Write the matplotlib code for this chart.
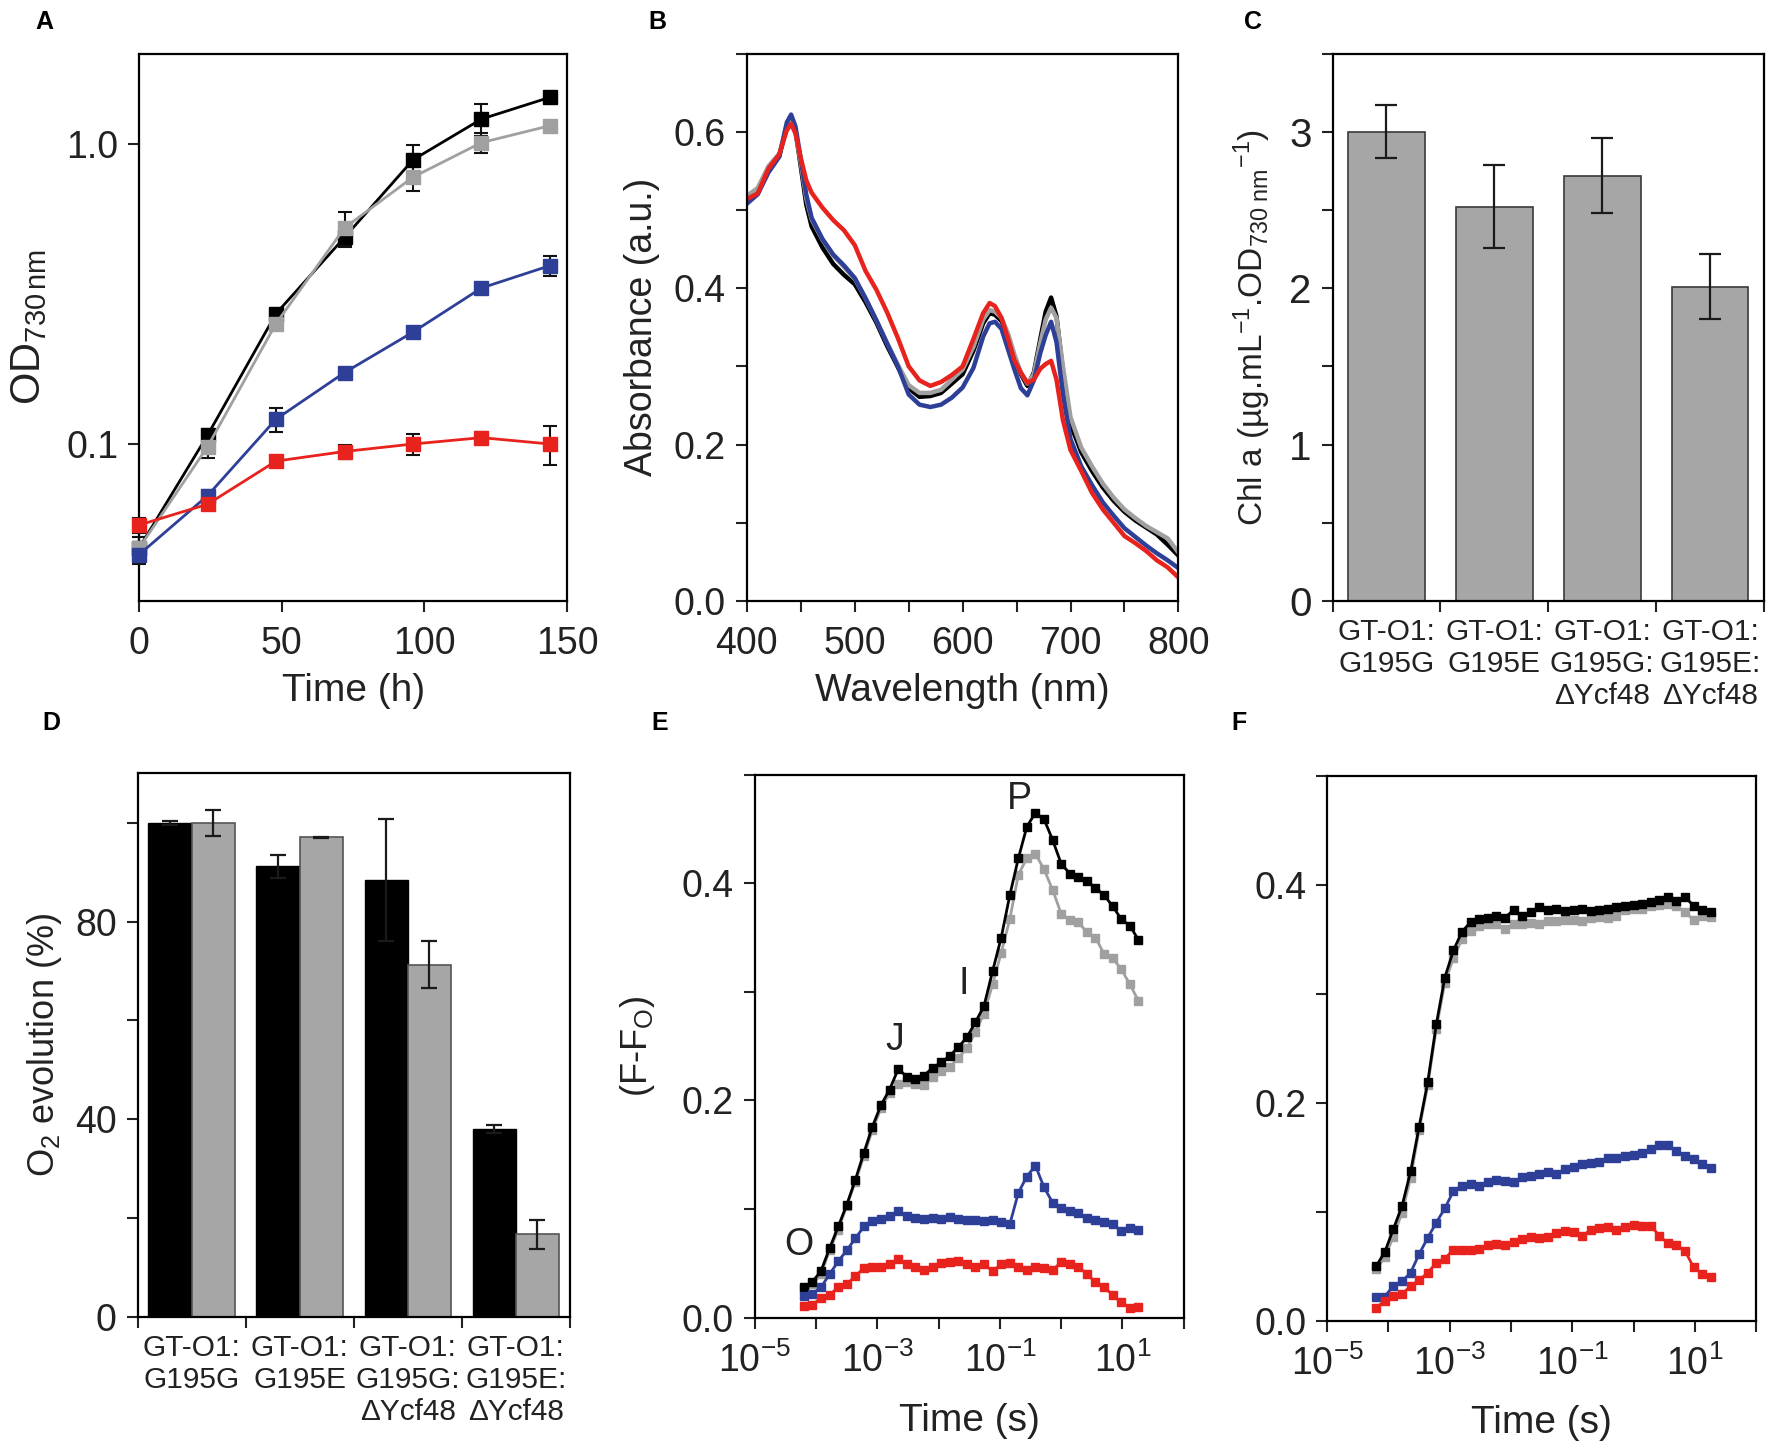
import matplotlib
matplotlib.use('Agg')
import matplotlib.pyplot as plt
import numpy as np
from matplotlib.ticker import (MultipleLocator, FixedLocator, FixedFormatter,
                               LogLocator, FuncFormatter, NullLocator)

plt.rcParams['font.family'] = ['Liberation Sans', 'DejaVu Sans']
plt.rcParams['mathtext.fontset'] = 'custom'
plt.rcParams['mathtext.rm'] = 'Liberation Sans'
plt.rcParams['mathtext.it'] = 'Liberation Sans:italic'
plt.rcParams['mathtext.bf'] = 'Liberation Sans:bold'
plt.rcParams['axes.linewidth'] = 1.6
plt.rcParams['text.color'] = '#222222'
plt.rcParams['axes.labelcolor'] = '#222222'
plt.rcParams['xtick.color'] = '#222222'
plt.rcParams['ytick.color'] = '#222222'

BLACK = '#000000'
GRAY = '#a0a0a0'
BLUE = '#2e3f98'
RED = '#e8221c'
BAR_GRAY = '#a6a6a6'

TICK_FS = 27
XLABEL_FS = 28
YLABEL_FS = 26
CAT_FS = 21.5

# --- A: growth curves ---
growth_time = [0, 24, 48, 72, 96, 120, 144]
od_black = [0.045, 0.107, 0.272, 0.488, 0.885, 1.21, 1.43]
od_black_err = [0.004, 0.005, 0.010, 0.03, 0.11, 0.15, 0.04]
od_gray = [0.045, 0.098, 0.252, 0.525, 0.775, 1.01, 1.15]
od_gray_err = [0.004, 0.008, 0.012, 0.07, 0.08, 0.08, 0.03]
od_blue = [0.0428, 0.0673, 0.121, 0.173, 0.236, 0.331, 0.393]
od_blue_err = [0.003, 0.003, 0.011, 0.006, 0.010, 0.010, 0.030]
od_red = [0.0537, 0.063, 0.0877, 0.0944, 0.100, 0.105, 0.100]
od_red_err = [0.003, 0.002, 0.003, 0.005, 0.008, 0.005, 0.015]

# --- B: absorbance spectra ---
wavelength = [400, 410, 420, 430, 437, 441, 445, 450, 455, 460, 470, 480, 490, 500,
              510, 520, 530, 540, 550, 560, 570, 580, 590, 600, 610, 619, 625, 630,
              636, 642, 648, 654, 660, 666, 672, 677, 682, 687, 693, 700, 710, 720,
              730, 740, 750, 760, 770, 780, 790, 800]
abs_black = [.512, .521, .552, .569, .607, .619, .602, .555, .507, .479, .452, .431, .417, .405,
             .382, .356, .326, .299, .272, .261, .262, .266, .278, .290, .320, .355, .368, .366,
             .358, .340, .312, .290, .275, .292, .335, .370, .388, .364, .293, .226, .190, .166,
             .145, .128, .114, .103, .094, .085, .072, .058]
abs_gray = [.518, .528, .556, .572, .605, .617, .600, .560, .515, .488, .462, .442, .427, .412,
            .387, .359, .330, .302, .276, .266, .266, .270, .283, .296, .325, .360, .372, .370,
            .362, .342, .315, .292, .278, .290, .330, .360, .375, .362, .300, .235, .196, .172,
            .150, .132, .117, .106, .096, .088, .080, .062]
abs_blue = [.508, .520, .548, .568, .612, .622, .607, .565, .520, .490, .463, .443, .429, .413,
            .387, .359, .329, .300, .264, .251, .248, .251, .260, .273, .298, .338, .355, .357,
            .348, .322, .296, .272, .263, .282, .317, .340, .357, .331, .264, .207, .172, .148,
            .126, .109, .093, .082, .071, .061, .052, .042]
abs_red = [.514, .521, .553, .571, .602, .610, .598, .566, .538, .522, .503, .487, .474, .455,
           .422, .398, .369, .336, .300, .282, .275, .280, .289, .300, .335, .368, .381, .377,
           .362, .336, .308, .292, .279, .283, .297, .303, .307, .283, .231, .193, .166, .138,
           .117, .100, .083, .074, .064, .052, .043, .030]

# --- C: chlorophyll a ---
strains = ['GT-O1:\nG195G', 'GT-O1:\nG195E', 'GT-O1:\nG195G:\nΔYcf48', 'GT-O1:\nG195E:\nΔYcf48']
chl = [3.00, 2.52, 2.72, 2.01]
chl_err = [0.17, 0.265, 0.24, 0.21]

# --- D: O2 evolution ---
o2_black = [99.9, 91.2, 88.4, 38.1]
o2_black_err = [0.4, 2.3, 12.3, 0.8]
o2_gray = [100.0, 97.0, 71.3, 16.7]
o2_gray_err = [2.6, 0.1, 4.7, 3.0]

# --- E / F: OJIP fluorescence transients ---
ojip_time = [6.3e-5, 8.7e-5, 1.2e-4, 1.66e-4, 2.3e-4, 3.16e-4, 4.37e-4, 6.03e-4, 8.3e-4,
             1.15e-3, 1.58e-3, 2.19e-3, 3.02e-3, 4.17e-3, 5.75e-3, 7.94e-3, 0.011, 0.0151,
             0.0209, 0.0288, 0.0398, 0.055, 0.0759, 0.105, 0.145, 0.2, 0.275, 0.38, 0.525,
             0.724, 1.0, 1.38, 1.91, 2.63, 3.63, 5.01, 6.92, 9.55, 13.2, 18.2]
e_black = [0.028, 0.033, 0.043, 0.064, 0.084, 0.104, 0.127, 0.152, 0.176, 0.196, 0.210, 0.229,
           0.222, 0.220, 0.223, 0.230, 0.235, 0.241, 0.249, 0.258, 0.272, 0.287, 0.319, 0.350,
           0.389, 0.423, 0.452, 0.465, 0.459, 0.440, 0.418, 0.409, 0.406, 0.402, 0.396, 0.389,
           0.379, 0.367, 0.361, 0.348]
e_gray = [0.026, 0.031, 0.040, 0.062, 0.081, 0.103, 0.125, 0.149, 0.173, 0.193, 0.207, 0.215,
          0.217, 0.215, 0.214, 0.222, 0.227, 0.231, 0.239, 0.248, 0.263, 0.280, 0.307, 0.336,
          0.367, 0.408, 0.423, 0.427, 0.413, 0.394, 0.372, 0.366, 0.364, 0.355, 0.350, 0.335,
          0.331, 0.321, 0.307, 0.292]
e_blue = [0.020, 0.022, 0.028, 0.040, 0.052, 0.062, 0.073, 0.084, 0.089, 0.091, 0.094, 0.098,
          0.094, 0.092, 0.091, 0.092, 0.091, 0.093, 0.091, 0.090, 0.090, 0.089, 0.090, 0.088,
          0.086, 0.115, 0.130, 0.140, 0.120, 0.106, 0.101, 0.098, 0.096, 0.092, 0.090, 0.088,
          0.086, 0.080, 0.083, 0.081]
e_red = [0.011, 0.012, 0.018, 0.021, 0.028, 0.031, 0.038, 0.046, 0.047, 0.047, 0.049, 0.054,
         0.049, 0.047, 0.044, 0.047, 0.050, 0.051, 0.052, 0.049, 0.047, 0.049, 0.043, 0.049,
         0.050, 0.047, 0.044, 0.047, 0.046, 0.044, 0.051, 0.049, 0.047, 0.040, 0.033, 0.028,
         0.021, 0.014, 0.009, 0.010]
f_black = [0.050, 0.063, 0.084, 0.105, 0.137, 0.178, 0.219, 0.272, 0.315, 0.340, 0.357, 0.366,
           0.369, 0.370, 0.372, 0.370, 0.377, 0.372, 0.375, 0.380, 0.377, 0.378, 0.376, 0.377,
           0.378, 0.376, 0.377, 0.378, 0.380, 0.381, 0.382, 0.383, 0.384, 0.386, 0.389, 0.385,
           0.389, 0.381, 0.377, 0.375]
f_gray = [0.047, 0.058, 0.077, 0.099, 0.131, 0.175, 0.216, 0.268, 0.310, 0.333, 0.350, 0.358,
          0.362, 0.364, 0.364, 0.360, 0.364, 0.364, 0.365, 0.364, 0.367, 0.367, 0.368, 0.368,
          0.367, 0.370, 0.371, 0.370, 0.372, 0.377, 0.378, 0.378, 0.381, 0.382, 0.383, 0.381,
          0.375, 0.368, 0.372, 0.371]
f_blue = [0.022, 0.022, 0.032, 0.036, 0.044, 0.061, 0.076, 0.090, 0.103, 0.119, 0.124, 0.125,
          0.124, 0.127, 0.129, 0.128, 0.127, 0.132, 0.133, 0.135, 0.136, 0.135, 0.139, 0.141,
          0.144, 0.145, 0.146, 0.149, 0.149, 0.151, 0.152, 0.154, 0.158, 0.161, 0.161, 0.156,
          0.151, 0.148, 0.144, 0.140]
f_red = [0.012, 0.018, 0.023, 0.024, 0.032, 0.037, 0.044, 0.053, 0.057, 0.065, 0.065, 0.065,
         0.066, 0.069, 0.070, 0.069, 0.072, 0.075, 0.077, 0.076, 0.077, 0.080, 0.082, 0.081,
         0.078, 0.083, 0.085, 0.086, 0.083, 0.086, 0.088, 0.087, 0.087, 0.078, 0.071, 0.069,
         0.064, 0.049, 0.043, 0.040]
ojip_marks = [('O', 5.3e-5, 0.067), ('J', 1.9e-3, 0.256), ('I', 0.026, 0.307), ('P', 0.21, 0.478)]


def style_axis(ax):
    ax.tick_params(which='both', direction='out', length=8, width=1.5,
                   labelsize=TICK_FS, top=False, right=False)
    ax.tick_params(axis='x', which='both', pad=10)
    ax.tick_params(axis='y', which='both', pad=7)
    for side in ax.spines.values():
        side.set_linewidth(1.6)


def odd_decades(v, pos):
    e = int(round(np.log10(v)))
    if e % 2 == 0:
        return ''
    return r'10$^{\mathregular{%d}}$' % e


def ojip_panel(ax, black, gray, blue, red):
    for vals, col in ((gray, GRAY), (black, BLACK), (blue, BLUE), (red, RED)):
        ax.plot(ojip_time, vals, '-s', color=col, lw=2, markersize=5.5)
    ax.set_xscale('log')
    ax.set_xlim(1e-5, 1e2)
    ax.set_ylim(0, 0.5)
    ax.xaxis.set_major_locator(LogLocator(base=10, numticks=20))
    ax.xaxis.set_minor_locator(NullLocator())
    ax.xaxis.set_major_formatter(FuncFormatter(odd_decades))
    ax.yaxis.set_major_locator(MultipleLocator(0.2))
    ax.yaxis.set_minor_locator(MultipleLocator(0.1))
    ax.yaxis.set_major_formatter(FuncFormatter(lambda v, p: '%.1f' % v))
    ax.set_xlabel('Time (s)', fontsize=XLABEL_FS, labelpad=16)
    style_axis(ax)


def category_axis(ax):
    ax.set_xlim(-0.5, 3.5)
    ax.set_xticks(range(4))
    ax.set_xticklabels(strains, fontsize=CAT_FS, linespacing=1.2)
    ax.xaxis.set_minor_locator(FixedLocator([-0.5, 0.5, 1.5, 2.5, 3.5]))
    style_axis(ax)
    ax.tick_params(axis='x', which='major', length=0, pad=12, labelsize=CAT_FS)


fig = plt.figure(figsize=(17.72, 14.48), dpi=100)

# A
ax = fig.add_axes([0.0785, 0.585, 0.2415, 0.378])
for vals, err, col in ((od_black, od_black_err, BLACK), (od_gray, od_gray_err, GRAY),
                       (od_blue, od_blue_err, BLUE), (od_red, od_red_err, RED)):
    ax.errorbar(growth_time, vals, yerr=err, fmt='-s', color=col, ecolor='#111111',
                elinewidth=1.5, capsize=5, capthick=1.5, markersize=10.5, lw=2,
                clip_on=False, zorder=3)
ax.set_yscale('log')
ax.set_xlim(0, 150)
ax.set_ylim(0.03, 2.0)
ax.yaxis.set_major_locator(FixedLocator([0.1, 1.0]))
ax.yaxis.set_major_formatter(FixedFormatter(['0.1', '1.0']))
ax.yaxis.set_minor_locator(NullLocator())
ax.xaxis.set_major_locator(MultipleLocator(50))
ax.set_xlabel('Time (h)', fontsize=XLABEL_FS, labelpad=8)
ax.set_ylabel(r'OD$_{\mathregular{730\,nm}}$', fontsize=YLABEL_FS + 4, labelpad=12)
style_axis(ax)

# B
ax = fig.add_axes([0.4215, 0.585, 0.2435, 0.378])
for vals, col in ((abs_black, BLACK), (abs_gray, GRAY), (abs_blue, BLUE), (abs_red, RED)):
    ax.plot(wavelength, vals, color=col, lw=3.2)
ax.set_xlim(400, 800)
ax.set_ylim(0, 0.7)
ax.xaxis.set_major_locator(MultipleLocator(100))
ax.xaxis.set_minor_locator(MultipleLocator(50))
ax.yaxis.set_major_locator(MultipleLocator(0.2))
ax.yaxis.set_minor_locator(MultipleLocator(0.1))
ax.yaxis.set_major_formatter(FuncFormatter(lambda v, p: '%.1f' % v))
ax.set_xlabel('Wavelength (nm)', fontsize=XLABEL_FS, labelpad=8)
ax.set_ylabel('Absorbance (a.u.)', fontsize=YLABEL_FS + 1, labelpad=10)
style_axis(ax)

# C
ax = fig.add_axes([0.752, 0.585, 0.2435, 0.378])
ax.bar(range(4), chl, width=0.71, color=BAR_GRAY, edgecolor='#3a3a3a', linewidth=1.2)
ax.errorbar(range(4), chl, yerr=chl_err, fmt='none', ecolor='#1a1a1a',
            elinewidth=1.6, capsize=8, capthick=1.6)
ax.set_ylim(0, 3.5)
ax.yaxis.set_major_locator(MultipleLocator(1))
ax.yaxis.set_minor_locator(MultipleLocator(0.5))
ax.set_ylabel(r'Chl a (µg.mL$^{\mathregular{-1}}$.OD$_{\mathregular{730\ nm}}$$^{\mathregular{-1}}$)',
              fontsize=YLABEL_FS - 2, labelpad=12)
category_axis(ax)
ax.tick_params(axis='y', labelsize=TICK_FS + 2)

# D
ax = fig.add_axes([0.0776, 0.0905, 0.244, 0.3755])
pos = np.arange(4)
ax.bar(pos - 0.2, o2_black, width=0.4, color=BLACK, edgecolor=BLACK, linewidth=1)
ax.bar(pos + 0.2, o2_gray, width=0.4, color=BAR_GRAY, edgecolor='#555555', linewidth=1.2)
ax.errorbar(pos - 0.2, o2_black, yerr=o2_black_err, fmt='none', ecolor='#1a1a1a',
            elinewidth=1.6, capsize=6, capthick=1.6)
ax.errorbar(pos + 0.2, o2_gray, yerr=o2_gray_err, fmt='none', ecolor='#1a1a1a',
            elinewidth=1.6, capsize=6, capthick=1.6)
ax.set_ylim(0, 110)
ax.yaxis.set_major_locator(MultipleLocator(40))
ax.yaxis.set_minor_locator(MultipleLocator(20))
ax.set_ylabel(r'O$_{\mathregular{2}}$ evolution (%)', fontsize=YLABEL_FS, labelpad=8)
category_axis(ax)

# E
ax = fig.add_axes([0.426, 0.090, 0.242, 0.375])
ojip_panel(ax, e_black, e_gray, e_blue, e_red)
ax.set_ylabel(r'(F-F$_{\mathregular{O}}$)', fontsize=YLABEL_FS, labelpad=18)
for txt, t, v in ojip_marks:
    ax.text(t, v, txt, fontsize=TICK_FS, ha='center', va='center')

# F
ax = fig.add_axes([0.749, 0.088, 0.242, 0.376])
ojip_panel(ax, f_black, f_gray, f_blue, f_red)

for letter, x, y in (('A', 0.025, 0.985), ('B', 0.371, 0.985), ('C', 0.707, 0.985),
                     ('D', 0.029, 0.501), ('E', 0.3725, 0.501), ('F', 0.699, 0.501)):
    fig.text(x, y, letter, fontsize=18, fontweight='bold', ha='center', va='center', color='black')

fig.savefig('out.png', dpi=100)
